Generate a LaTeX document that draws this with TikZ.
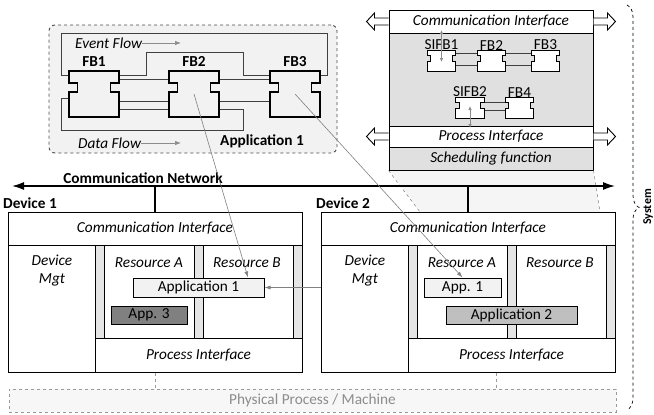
\documentclass[tikz,border=0pt]{standalone}
\usepackage{fontspec}
\setmainfont{Carlito}
\usepackage{tikz}
\usetikzlibrary{positioning,fit,arrows.meta,decorations.pathreplacing}

\begin{document}
\begin{tikzpicture}[x=1pt,y=-1pt,font=\fontsize{15.3}{18}\selectfont,
    blk/.style={draw,line width=1pt,inner sep=0pt},
    lbl/.style={font=\fontsize{15.3}{18}\selectfont\itshape},
    bold/.style={font=\fontsize{15.3}{18}\selectfont\bfseries},
    wire/.style={draw=black!75,line width=.8pt},
    ptr/.style={draw=black!50,line width=.6pt,-{Latex[length=6pt,width=4pt]}},
    flow/.style={draw=black!45,line width=.7pt,-{Latex[length=6pt,width=4.5pt]}},
    fbbig/.style={inner sep=0pt,minimum width=50pt,minimum height=46pt},
    fbsmall/.style={inner sep=0pt,minimum width=28pt,minimum height=20pt}]
\useasboundingbox (0,0) rectangle (654,415);
\def\fbig#1{\draw[line width=1.5pt,fill=black!5] (#1.north west) -- (#1.north east) -- ++(0,12) -- ++(-8.5,0) -- ++(0,9) -- ++(8.5,0)
    -- (#1.south east) -- (#1.south west) -- ++(0,-25) -- ++(8.5,0) -- ++(0,-9) -- ++(-8.5,0) -- cycle;}
\def\fsmall#1{\draw[line width=1pt,fill=white] (#1.north west) -- (#1.north east) -- ++(0,4.5) -- ++(-3.5,0) -- ++(0,6) -- ++(3.5,0)
    -- (#1.south east) -- (#1.south west) -- ++(0,-9.5) -- ++(3.5,0) -- ++(0,-6) -- ++(-3.5,0) -- cycle;}

% application 1
\node[draw=black!70,dashed,line width=.9pt,rounded corners=6pt,fill=black!5,inner sep=0pt,fit={(49,25)(337,153)}] (app) {};
\node[fbbig] (fb1) at (94,94) {};
\node[fbbig] (fb2) at (194,94) {};
\node[fbbig] (fb3) at (295,94) {};
\draw[wire] (fb1.west |- 0,75) -- (61,75) |- (327,33) -- (327,75) -- (fb3.east |- 0,75);
\draw[wire] (fb1.east |- 0,75) -| (146,52) -| (243,75) -- (fb3.west |- 0,75);
\draw[wire] (fb1.east |- 0,79) -- (fb2.west |- 0,79);
\draw[wire] (fb2.east |- 0,79) -- (fb3.west |- 0,79);
\draw[wire] (fb1.east |- 0,101) -- (fb2.west |- 0,101);
\draw[wire] (fb1.east |- 0,109) -- (fb2.west |- 0,109);
\draw[wire] (fb2.east |- 0,101) -- (fb3.west |- 0,101);
\draw[wire] (fb2.east |- 0,109) -| (243,130) -| (61,98) -- (fb1.west |- 0,98);
\fbig{fb1} \fbig{fb2} \fbig{fb3}
\node[bold,above=1pt of fb1] (fb1-lbl) {FB1};
\node[bold,above=1pt of fb2] (fb2-lbl) {FB2};
\node[bold,above=1pt of fb3] (fb3-lbl) {FB3};
\node[lbl,anchor=west,inner sep=0pt] (evf) at (75,43) {Event Flow};
\coordinate (evf-end) at (181,43);
\draw[flow] (evf.east) -- (evf-end);
\node[lbl,anchor=west,inner sep=0pt] (dtf) at (78,143) {Data Flow};
\coordinate (dtf-end) at (181,143);
\draw[flow] (dtf.east) -- (dtf-end);
\node[bold] (app-lbl) at (262,141) {Application 1};

% zoom cone and resource view
\fill[black!4] (389,170) -- (593,170) -- (600,212) -- (420,212) -- cycle;
\node[blk,fill=black!12,fit={(389,33)(593,126)}] (core) {};
\node[blk,fill=white,fit={(389,10)(593,33)},label={[lbl]center:Communication Interface}] (rci) {};
\node[blk,fill=white,fit={(389,126)(593,147)},label={[lbl]center:Process Interface}] (rpi) {};
\node[blk,fill=black!12,fit={(389,147)(593,170)},label={[lbl]center:Scheduling function}] (rsf) {};
\draw[black!50,dashed,line width=.5pt] (rsf.south west) -- (420,212);
\draw[black!50,dashed,line width=.5pt] (rsf.south east) -- (600,212);
\foreach \n in {rci,rpi}{
  \draw[line width=.9pt,fill=white] (\n.west) ++(0,-3.5) -- ++(-14,0) -- ++(0,-5) -- ++(-8,8.5) -- ++(8,8.5) -- ++(0,-5) -- ++(14,0);
  \draw[line width=.9pt,fill=white] (\n.east) ++(0,-3.5) -- ++(14,0) -- ++(0,-5) -- ++(8,8.5) -- ++(-8,8.5) -- ++(0,-5) -- ++(-14,0);
}
\node[fbsmall] (sifb1) at (441.5,61) {};
\node[fbsmall] (rfb2) at (491.5,61) {};
\node[fbsmall] (rfb3) at (545.5,61) {};
\node[fbsmall] (sifb2) at (470,108) {};
\node[fbsmall] (rfb4) at (519.5,108) {};
\draw[wire] (sifb1.east |- 0,53.5) -- (rfb2.west |- 0,53.5);
\draw[wire] (sifb1.east |- 0,65.5) -- (rfb2.west |- 0,65.5);
\draw[wire] (rfb2.east |- 0,53.5) -- (rfb3.west |- 0,53.5);
\draw[wire] (rfb2.east |- 0,65.5) -- (rfb3.west |- 0,65.5);
\draw[wire] (sifb2.east |- 0,102) -- (rfb4.west |- 0,102);
\draw[wire] (sifb2.east |- 0,110) -- (rfb4.west |- 0,110);
\fsmall{sifb1} \fsmall{rfb2} \fsmall{rfb3} \fsmall{sifb2} \fsmall{rfb4}
\node[anchor=south,inner sep=.5pt] (sifb1-lbl) at (sifb1.north) {SIFB1};
\node[anchor=south,inner sep=.5pt] (rfb2-lbl) at (rfb2.north) {FB2};
\node[anchor=south,inner sep=.5pt] (rfb3-lbl) at (rfb3.north) {FB3};
\node[anchor=south,inner sep=.5pt] (sifb2-lbl) at (sifb2.north) {SIFB2};
\node[anchor=south,inner sep=.5pt] (rfb4-lbl) at (rfb4.north) {FB4};
\draw[black!45,line width=.7pt,{Latex[length=4pt,width=3.5pt]}-{Latex[length=4pt,width=3.5pt]}] (sifb1.center |- 0,30) -- (sifb1.center |- 0,62);
\draw[black!45,line width=.7pt,{Latex[length=4pt,width=3.5pt]}-{Latex[length=4pt,width=3.5pt]}] (sifb2.center |- 0,106) -- (sifb2.center |- 0,128);

% network
\coordinate (netL) at (12,186);
\coordinate (netR) at (615,186);
\draw[line width=1.5pt,{Latex[length=12pt,width=8pt]}-{Latex[length=12pt,width=8pt]}] (netL) -- (netR);
\node[bold,anchor=south,inner sep=2pt] (net-lbl) at (143,186) {Communication Network};

% devices
\foreach \d/\x in {1/8,2/321}{
  \node[blk,fit={(\x,212)(\x+294,372)}] (dev\d) {};
  \node[blk,fit={(\x,212)(\x+294,245)},label={[lbl]center:Communication Interface}] (ci\d) {};
  \node[blk,fit={(\x,245)(\x+87,372)}] (mgt\d) {};
  \node[blk,fill=black!10,fit={(\x+87,245)(\x+96,338)}] (st\d-1) {};
  \node[blk,fit={(\x+96,245)(\x+186,338)}] (resA\d) {};
  \node[blk,fill=black!10,fit={(\x+186,245)(\x+195,338)}] (st\d-2) {};
  \node[blk,fit={(\x+195,245)(\x+285,338)}] (resB\d) {};
  \node[blk,fill=black!10,fit={(\x+285,245)(\x+294,338)}] (st\d-3) {};
  \node[blk,fit={(\x+87,338)(\x+294,372)},label={[lbl]center:Process Interface}] (pi\d) {};
  \node[lbl,align=center,anchor=north] (mgt\d-lbl) at (\x+44,251) {Device\\Mgt};
  \node[lbl] (resA\d-lbl) at (\x+141,263) {Resource A};
  \node[lbl] (resB\d-lbl) at (\x+239,263) {Resource B};
  \node[bold,anchor=base west,inner sep=0pt] (dev\d-lbl) at (\x-5,208) {Device \d};
  \draw[line width=1.5pt] (dev\d.north) -- (dev\d.north |- netL);
}
\node[blk,fill=black!5,fit={(133,278)(264,297)},label={center:Application 1}] (app1a) {};
\node[blk,fill=black!50,fit={(111,306)(187,324)},label={center:App. 3}] (app3) {};
\node[blk,fill=black!5,fit={(424,278)(501,297)},label={center:App. 1}] (app1b) {};
\node[blk,fill=black!25,fit={(446,306)(577,324)},label={center:Application 2}] (app2) {};

% physical process
\node[draw=black!40,dashed,line width=.6pt,fill=black!3,inner sep=0pt,fit={(9,389)(616,412)},
  label={[text=black!45]center:Physical Process / Machine}] (phys) {};
\draw[black!40,dashed,line width=.6pt] (dev1.south) -- (dev1.south |- phys.north);
\draw[black!40,dashed,line width=.6pt] (dev2.south -| 496,0) -- (phys.north -| 496,0);

% mapping arrows
\draw[ptr] (fb2.center) -- ([xshift=49.5pt]app1a.north);
\draw[ptr] (fb3.center) -- (app1b.north);
\draw[ptr] (dev2.west |- app1a.east) -- (app1a.east);

% system
\draw[dashed,line width=.7pt,decorate,decoration={brace,amplitude=12pt}] (627,5) -- (627,410);
\node[font=\fontsize{12}{14}\selectfont\bfseries,rotate=90,anchor=north,inner sep=0pt] (sys) at (643,207) {System};
\end{tikzpicture}
\end{document}
